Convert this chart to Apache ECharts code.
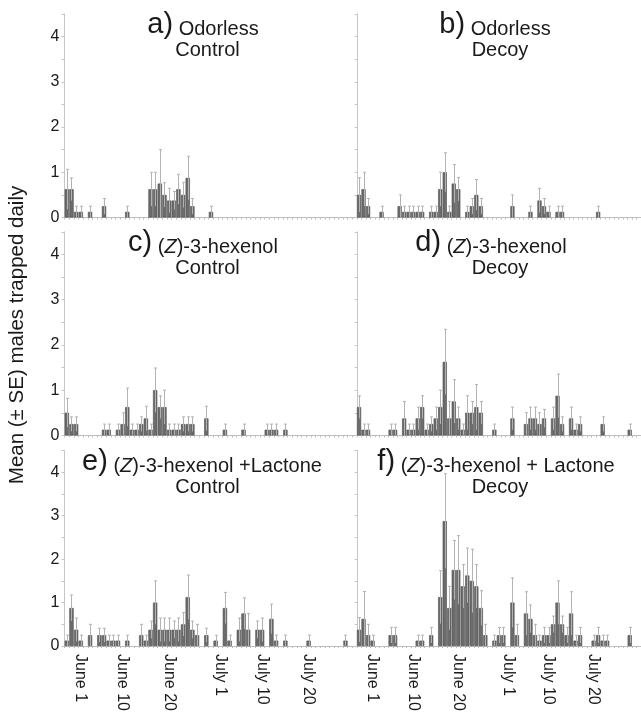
<!DOCTYPE html>
<html>
<head>
<meta charset="utf-8">
<script src="https://cdn.jsdelivr.net/npm/echarts@6/dist/echarts.min.js"></script>
<style>
    html, body { margin: 0; padding: 0; background: #fff; }
    #divChart { width: 641px; height: 714px; }
</style>
</head>
<body>
<div id="divChart"></div>
<script>
// trap days: May 23 .. July 30 (category index 0 .. 68)
var months = [["May", 23, 31], ["June", 1, 30], ["July", 1, 30]];
var tickLabels = ["June 1", "June 10", "June 20", "July 1", "July 10", "July 20"];
var yTicks = [0, 1, 2, 3, 4];

// [day index, mean, SE]
var odorlessControl = [
    [6, 0.625, 0.44], [7, 0.625, 0.25], [8, 0.125, 0.125], [9, 0.125, 0.125], [11, 0.125, 0.125],
    [14, 0.25, 0.17], [19, 0.125, 0.125], [24, 0.625, 0.375], [25, 0.625, 0.375], [26, 0.75, 0.75],
    [27, 0.5, 0.27], [28, 0.375, 0.27], [29, 0.375, 0.2], [30, 0.625, 0.33], [31, 0.5, 0.28],
    [32, 0.875, 0.48], [33, 0.25, 0.17], [37, 0.125, 0.125]
];
var odorlessDecoy = [
    [6, 0.5, 0.38], [7, 0.625, 0.375], [8, 0.25, 0.17], [11, 0.125, 0.125], [15, 0.25, 0.25],
    [16, 0.125, 0.125], [17, 0.125, 0.125], [18, 0.125, 0.125], [19, 0.125, 0.125], [20, 0.125, 0.125],
    [22, 0.125, 0.125], [23, 0.125, 0.125], [24, 0.625, 0.375], [25, 1.0, 0.43], [26, 0.125, 0.125],
    [27, 0.75, 0.42], [28, 0.625, 0.26], [30, 0.125, 0.125], [31, 0.25, 0.17], [32, 0.5, 0.34],
    [33, 0.25, 0.17], [40, 0.25, 0.25], [44, 0.125, 0.125], [46, 0.375, 0.27], [47, 0.25, 0.17],
    [48, 0.125, 0.125], [50, 0.125, 0.125], [51, 0.125, 0.125], [59, 0.125, 0.125]
];
var hexenolControl = [
    [6, 0.5, 0.32], [7, 0.25, 0.16], [8, 0.25, 0.16], [14, 0.125, 0.125], [15, 0.125, 0.125],
    [17, 0.125, 0.125], [18, 0.25, 0.25], [19, 0.625, 0.42], [20, 0.125, 0.125], [21, 0.125, 0.125],
    [22, 0.25, 0.16], [23, 0.375, 0.27], [24, 0.125, 0.125], [25, 1.0, 0.49], [26, 0.625, 0.25],
    [27, 0.625, 0.375], [28, 0.125, 0.125], [29, 0.125, 0.125], [30, 0.125, 0.125], [31, 0.25, 0.16],
    [32, 0.25, 0.16], [33, 0.25, 0.16], [36, 0.375, 0.27], [40, 0.125, 0.125], [44, 0.125, 0.125],
    [49, 0.125, 0.125], [50, 0.125, 0.125], [51, 0.125, 0.125], [53, 0.125, 0.125]
];
var hexenolDecoy = [
    [6, 0.625, 0.25], [7, 0.125, 0.125], [8, 0.125, 0.125], [13, 0.125, 0.125], [14, 0.125, 0.125],
    [16, 0.375, 0.375], [17, 0.125, 0.125], [18, 0.125, 0.125], [19, 0.375, 0.25], [20, 0.625, 0.25],
    [21, 0.125, 0.125], [22, 0.25, 0.16], [23, 0.375, 0.25], [24, 0.625, 0.375], [25, 1.625, 0.72],
    [26, 0.375, 0.375], [27, 0.75, 0.48], [28, 0.375, 0.25], [29, 0.125, 0.125], [30, 0.5, 0.375],
    [31, 0.5, 0.25], [32, 0.625, 0.5], [33, 0.5, 0.25], [36, 0.125, 0.125], [40, 0.375, 0.25],
    [43, 0.25, 0.25], [44, 0.375, 0.25], [45, 0.375, 0.25], [46, 0.25, 0.25], [47, 0.375, 0.2],
    [49, 0.375, 0.25], [50, 0.875, 0.48], [51, 0.25, 0.16], [53, 0.375, 0.25], [54, 0.125, 0.125],
    [55, 0.25, 0.16], [60, 0.25, 0.16], [66, 0.125, 0.125]
];
var lactoneControl = [
    [6, 0.125, 0.125], [7, 0.875, 0.3], [8, 0.375, 0.27], [9, 0.125, 0.125], [11, 0.25, 0.25],
    [13, 0.25, 0.16], [14, 0.25, 0.16], [15, 0.125, 0.125], [16, 0.125, 0.125], [17, 0.125, 0.125],
    [19, 0.125, 0.125], [22, 0.25, 0.25], [23, 0.125, 0.125], [24, 0.375, 0.2], [25, 1.0, 0.5],
    [26, 0.375, 0.27], [27, 0.375, 0.27], [28, 0.375, 0.27], [29, 0.375, 0.2], [30, 0.375, 0.27],
    [31, 0.5, 0.27], [32, 1.125, 0.51], [33, 0.375, 0.2], [34, 0.25, 0.25], [36, 0.25, 0.16],
    [38, 0.125, 0.125], [40, 0.875, 0.36], [41, 0.125, 0.125], [43, 0.375, 0.27], [44, 0.75, 0.36],
    [45, 0.375, 0.375], [47, 0.375, 0.2], [48, 0.375, 0.27], [50, 0.625, 0.34], [51, 0.125, 0.125],
    [53, 0.125, 0.125], [58, 0.125, 0.125]
];
var lactoneDecoy = [
    [3, 0.125, 0.125], [6, 0.375, 0.28], [7, 0.625, 0.63], [8, 0.25, 0.25], [9, 0.125, 0.125],
    [13, 0.25, 0.18], [14, 0.25, 0.18], [19, 0.125, 0.125], [20, 0.125, 0.125], [22, 0.25, 0.18],
    [24, 1.125, 0.61], [25, 2.875, 1.09], [26, 0.875, 0.5], [27, 1.75, 0.68], [28, 1.75, 0.79],
    [29, 1.375, 0.5], [30, 1.625, 0.63], [31, 1.5, 0.73], [32, 1.375, 0.5], [33, 0.875, 0.4],
    [34, 0.25, 0.25], [36, 0.125, 0.125], [37, 0.25, 0.18], [38, 0.25, 0.18], [40, 1.0, 0.57],
    [41, 0.25, 0.25], [43, 0.75, 0.5], [44, 0.625, 0.32], [45, 0.25, 0.25], [46, 0.125, 0.125],
    [47, 0.25, 0.18], [48, 0.25, 0.18], [49, 0.5, 0.19], [50, 1.0, 0.5], [51, 0.5, 0.19],
    [52, 0.25, 0.18], [53, 0.75, 0.5], [54, 0.125, 0.125], [55, 0.25, 0.18], [58, 0.125, 0.125],
    [59, 0.25, 0.18], [60, 0.125, 0.125], [61, 0.125, 0.125], [66, 0.25, 0.18]
];

var Chart = {
    Datas: {
        font: "Liberation Sans, Arial, sans-serif",
        axisColor: "#bdbdbd",
        rowTops: [13.9, 231.8, 450.5],
        plotHeight: 203.6,
        dayWidth: 4.65,
        panels: [
            { data: odorlessControl, col: 0, row: 0, tag: "a)", line1: "{t|Odorless}", line2: "Control", c1: 203 },
            { data: odorlessDecoy, col: 1, row: 0, tag: "b)", line1: "{t|Odorless}", line2: "Decoy", c1: 495 },
            { data: hexenolControl, col: 0, row: 1, tag: "c)", line1: "{t|(}{i|Z}{t|)-3-hexenol}", line2: "Control", c1: 203 },
            { data: hexenolDecoy, col: 1, row: 1, tag: "d)", line1: "{t|(}{i|Z}{t|)-3-hexenol}", line2: "Decoy", c1: 491 },
            { data: lactoneControl, col: 0, row: 2, tag: "e)", line1: "{t|(}{i|Z}{t|)-3-hexenol +Lactone}", line2: "Control", c1: 202 },
            { data: lactoneDecoy, col: 1, row: 2, tag: "f)", line1: "{t|(}{i|Z}{t|)-3-hexenol + Lactone}", line2: "Decoy", c1: 496 }
        ]
    },
    getDays: function () {
        var aDays = [];
        for (var i = 0; i < months.length; i++) {
            for (var d = months[i][1]; d <= months[i][2]; d++) {
                aDays.push(months[i][0] + " " + d);
            }
        }
        return aDays;
    },
    renderError: function (params, api) {
        var aX = api.value(0);
        var aHi = api.value(1) + api.value(2);
        var aLo = Math.max(0, api.value(1) - api.value(2));
        var aTop = api.coord([aX, aHi]);
        var aBot = api.coord([aX, aLo]);
        var aPx = Math.round(aTop[0]) + 0.5;
        var aStyle = { stroke: "#b3b3b3", lineWidth: 1 };
        return {
            type: "group",
            children: [
                { type: "line", shape: { x1: aPx, y1: aTop[1], x2: aPx, y2: aBot[1] }, style: aStyle },
                { type: "line", shape: { x1: aPx - 1.5, y1: aTop[1], x2: aPx + 1.5, y2: aTop[1] }, style: aStyle }
            ]
        };
    },
    Load: function () {
        var me = Chart;
        try {
            var aDays = me.getDays();
            var aOption = {
                backgroundColor: "#fff",
                animation: false,
                grid: [], xAxis: [], yAxis: [], series: [], graphic: []
            };
            for (var k = 0; k < me.Datas.panels.length; k++) {
                var aPanel = me.Datas.panels[k];
                var aTop = me.Datas.rowTops[aPanel.row];
                var aLeft = aPanel.col == 0 ? 64.5 : 329.7;
                var aCount = aPanel.col == 0 ? 57 : 69;
                aOption.grid.push({
                    left: aLeft, top: aTop, width: aCount * me.Datas.dayWidth, height: me.Datas.plotHeight,
                    containLabel: false
                });
                aOption.xAxis.push({
                    type: "category", gridIndex: k, data: aDays,
                    min: aPanel.col == 0 ? 6 : 0, max: aPanel.col == 0 ? 62 : 68,
                    axisLine: { lineStyle: { color: me.Datas.axisColor, width: 1 } },
                    axisTick: { show: true, interval: 0, length: 2, lineStyle: { color: me.Datas.axisColor } },
                    axisLabel: {
                        show: aPanel.row == 2,
                        interval: function (i, v) { return tickLabels.indexOf(v) >= 0; },
                        rotate: -90, margin: 8, fontSize: 16, color: "#1a1a1a", fontFamily: me.Datas.font
                    },
                    splitLine: { show: false }
                });
                aOption.yAxis.push({
                    type: "value", gridIndex: k, min: 0, max: 4.5, interval: 0.5,
                    offset: aPanel.col == 0 ? 0 : -27.9,
                    axisLine: { show: true, lineStyle: { color: "#c6c6c6", width: 1 } },
                    axisTick: { show: true, length: 3, lineStyle: { color: "#c6c6c6" } },
                    axisLabel: {
                        show: aPanel.col == 0, margin: 5, fontSize: 16, color: "#1a1a1a", fontFamily: me.Datas.font,
                        formatter: function (v) { return yTicks.indexOf(v) >= 0 ? String(v) : ""; }
                    },
                    splitLine: { show: false }
                });
                var aBars = aDays.map(function () { return "-"; });
                for (var j = 0; j < aPanel.data.length; j++) {
                    aBars[aPanel.data[j][0]] = aPanel.data[j][1];
                }
                aOption.series.push({
                    type: "bar", xAxisIndex: k, yAxisIndex: k, data: aBars,
                    barCategoryGap: "8%",
                    itemStyle: { color: "#6c6c6c", borderColor: "#4e4e4e", borderWidth: 0.6 },
                    silent: true
                });
                aOption.series.push({
                    type: "custom", xAxisIndex: k, yAxisIndex: k, data: aPanel.data,
                    renderItem: me.renderError, silent: true, z: 3
                });
                var aC2 = aPanel.col == 0 ? 207.5 : 500;
                aOption.graphic.push({
                    type: "text", x: aPanel.c1, y: aTop + 11, z: 10,
                    style: {
                        text: "{b|" + aPanel.tag + "} " + aPanel.line1,
                        align: "center", verticalAlign: "middle", fill: "#1a1a1a",
                        font: "20px " + me.Datas.font,
                        rich: {
                            b: { fontSize: 29, fontFamily: me.Datas.font, verticalAlign: "bottom" },
                            t: { fontSize: 20, fontFamily: me.Datas.font, verticalAlign: "bottom" },
                            i: { fontSize: 20, fontStyle: "italic", fontFamily: me.Datas.font, verticalAlign: "bottom" }
                        }
                    }
                });
                aOption.graphic.push({
                    type: "text", x: aC2, y: aTop + 36.5, z: 10,
                    style: {
                        text: aPanel.line2, align: "center", verticalAlign: "middle",
                        fill: "#1a1a1a", font: "20px " + me.Datas.font
                    }
                });
            }
            aOption.graphic.push({
                type: "text", x: 17, y: 335, rotation: Math.PI / 2,
                style: {
                    text: "Mean (\u00b1 SE) males trapped daily", align: "center", verticalAlign: "middle",
                    fill: "#1a1a1a", font: "20.5px " + me.Datas.font
                }
            });
            var aCharts = echarts.init(document.getElementById("divChart"), null, { renderer: "canvas" });
            aCharts.setOption(aOption);
        }
        catch (e) {
            console.log(e);
        }
    }
};
Chart.Load();
</script>
</body>
</html>
